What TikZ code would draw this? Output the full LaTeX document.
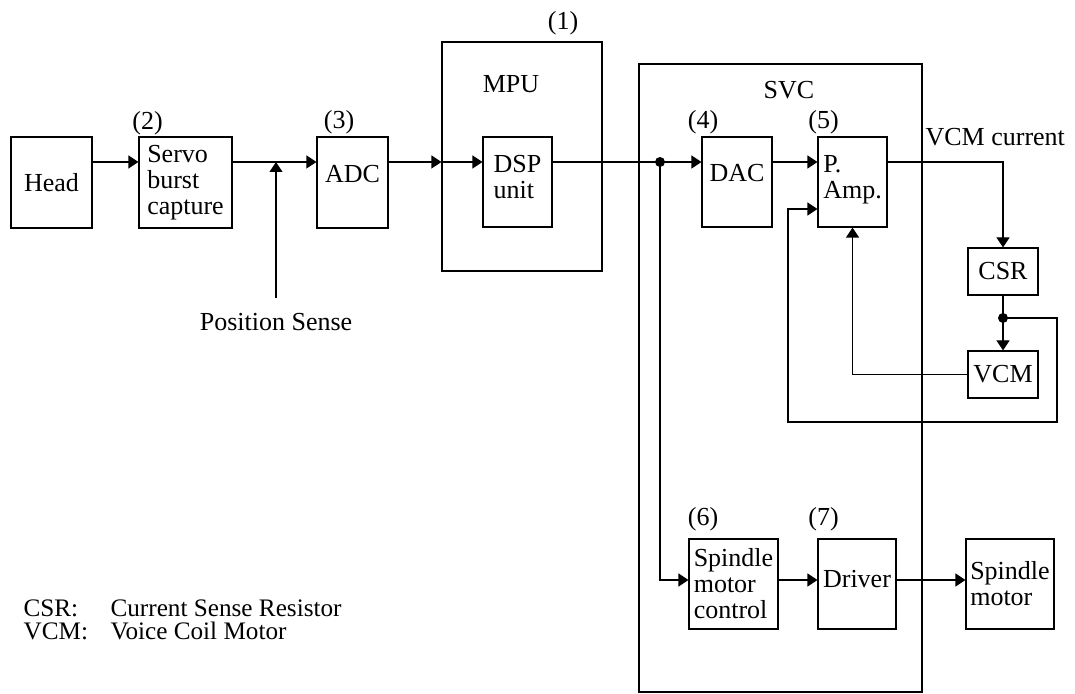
\documentclass[tikz,border=0pt]{standalone}
\usepackage{fontspec}
\setmainfont{Liberation Serif}
\usetikzlibrary{arrows.meta, calc}

\begin{document}
\begin{tikzpicture}[x=0.5pt, y=-0.5pt,
    font=\fontsize{13}{13}\selectfont, line width=0.6pt,
    blk/.style={draw, align=left, inner sep=1pt, minimum width=#1},
    blk/.default=35pt,
    arr/.style={-{Triangle[length=5pt, width=6.5pt]}},
    lbl/.style={inner sep=1pt}]
  \useasboundingbox (0,0) rectangle (1075,694);

  % Gehaeuse MPU und SVC
  \node[draw, minimum width=80pt, minimum height=114.5pt] (mpu) at (522,156.5) {};
  \node[lbl] (mpulbl) at (511,84) {MPU};
  \node[lbl] (n1) at (563,23) {(1)};
  \node[draw, minimum width=141.5pt, minimum height=314pt] (svc) at (780.5,378) {};
  \node[lbl] (svclbl) at (789,90.5) {SVC};

  % Obere Kette
  \coordinate (sig) at (0,162);
  \node[blk=40.5pt, minimum height=45.5pt] (head) at (51.5,182.5) {Head};
  \node[blk=46.5pt, minimum height=45.5pt] (servo) at (185.5,182.5) {Servo\\burst\\capture};
  \node[blk=35.5pt, minimum height=45.5pt, text depth=8.8pt] (adc) at (352.5,182.5) {ADC};
  \node[blk=34.5pt, minimum height=45pt, text depth=5.4pt] (dsp) at (517.5,182) {DSP\\unit};
  \node[blk=35pt, minimum height=45pt, text depth=8.8pt] (dac) at (737,182) {DAC};
  \node[blk=34.5pt, minimum height=45pt, text depth=5.4pt] (pamp) at (852.5,182) {P.\\Amp.};
  \node[lbl] (n2) at (147.5,123) {(2)};
  \node[lbl] (n3) at (339,122) {(3)};
  \node[lbl] (n4) at (703,122) {(4)};
  \node[lbl] (n5) at (823.5,122) {(5)};

  % Strommessung und VCM
  \node[blk, minimum height=23.5pt] (csr) at (1003,271.5) {CSR};
  \node[blk, minimum height=23.5pt] (vcm) at (1003,374.5) {VCM};
  \node[lbl, anchor=west] (vcmcur) at (923,137.5) {VCM current};

  % Spindelzweig
  \coordinate (low) at (0,580);
  \node[blk=44.5pt, minimum height=45pt] (smc) at (733.5,584) {Spindle\\motor\\control};
  \node[blk=39pt, minimum height=45pt, text depth=5pt] (drv) at (857,584) {Driver};
  \node[blk=44pt, minimum height=45pt] (spm) at (1010,584) {Spindle\\motor};
  \node[lbl] (n6) at (703,519.5) {(6)};
  \node[lbl] (n7) at (823.5,519.5) {(7)};

  \node[lbl] (possense) at (276,322) {Position Sense};
  \node[anchor=north west, inner sep=0pt, align=left,
        font=\fontsize{12.6}{11.8}\selectfont] (legend) at (23,599)
    {\makebox[43.5pt][l]{CSR:}Current Sense Resistor\\
     \makebox[43.5pt][l]{VCM:}Voice Coil Motor};

  % Verbindungen
  \coordinate (split) at (660,162);
  \coordinate (tap) at (1003,318);
  \coordinate (fbr) at (1057,422);
  \coordinate (fbl) at (788,422);
  \draw[arr] (head.east |- sig) -- (servo.west |- sig);
  \draw[arr] (servo.east |- sig) -- (adc.west |- sig);
  \draw[arr] ([yshift=6.5pt]possense.north) -- (possense.north |- sig);
  \draw[arr] (adc.east |- sig) -- (mpu.west |- sig);
  \draw[arr] (mpu.west |- sig) -- (dsp.west |- sig);
  \draw (dsp.east |- sig) -- (split);
  \draw[arr] (split) -- (dac.west |- sig);
  \draw[arr] (dac.east |- sig) -- (pamp.west |- sig);
  \draw[arr] (pamp.east |- sig) -| (csr.north);
  \draw (csr.south) -- (tap);
  \draw[arr] (tap) -- (vcm.north);
  \draw[arr] (vcm.west) -| (pamp.south);
  \draw[arr] (tap) -- (fbr |- tap) -- (fbr) -- (fbl) |- ([yshift=-13.5pt]pamp.west);
  \draw[arr] (split) |- (smc.west |- low);
  \draw[arr] (smc.east |- low) -- (drv.west |- low);
  \draw[arr] (drv.east |- low) -- (spm.west |- low);
  \fill (split) circle (2.5pt);
  \fill (tap) circle (2.5pt);
\end{tikzpicture}
\end{document}
